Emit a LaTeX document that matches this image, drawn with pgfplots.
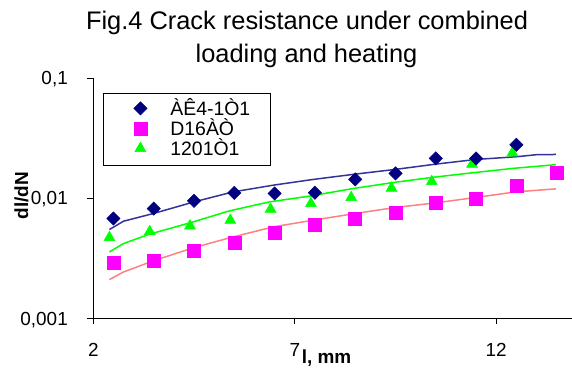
\documentclass[border=0pt]{standalone}
\usepackage{pgfplots}
\pgfplotsset{compat=1.18}
\usepackage{fontspec}
\setmainfont{Liberation Sans}
\definecolor{navy}{RGB}{0,0,128}
\definecolor{bline}{RGB}{51,51,153}
\definecolor{mag}{RGB}{255,0,255}
\definecolor{lgreen}{RGB}{0,255,0}
\definecolor{salmon}{RGB}{255,128,128}
\newcommand{\legtext}[1]{\raisebox{0pt}[16bp][4bp]{#1\hspace*{2bp}}}
\begin{document}
\begin{tikzpicture}
\begin{axis}[
  at={(93.3bp,50.7bp)}, anchor=south west,
  scale only axis, width=478.7bp, height=240.3bp,
  xmin=2, xmax=13.88, ymin=0.001, ymax=0.1, ymode=log,
  clip=false,
  axis lines*=left,
  axis line style={-, line width=0.8bp, black},
  tick align=outside, major tick length=6bp,
  tick style={line width=0.8bp, black},
  yminorticks=false, xminorticks=false,
  xtick={2,7,12}, xticklabels={2,7,12},
  ytick={0.001,0.01,0.1}, yticklabels={{0,001},{0,01},{0,1}},
  /pgf/number format/assume math mode=true,
  xticklabel style={font=\fontsize{19}{19}\selectfont, anchor=base, inner sep=0pt, yshift=-32.4bp},
  yticklabel style={font=\fontsize{19}{19}\selectfont, anchor=base east, inner sep=0pt, xshift=-19.3bp, yshift=-6.8bp},
  xlabel={l, mm},
  xlabel style={at={(axis description cs:0.4353,-0.186)}, anchor=base west, inner sep=0pt, font=\bfseries\fontsize{19}{19}\selectfont},
  ylabel={dl/dN},
  ylabel style={at={(axis description cs:-0.1364,0.511)}, anchor=base, inner sep=0pt, font=\bfseries\fontsize{19}{19}\selectfont},
  legend image code/.code={%
    \path[draw=none, fill=none] (-7bp,0bp) -- (42bp,0bp);
    \draw[only marks, mark repeat=2,mark phase=2] plot coordinates {(0bp,7bp)(12bp,7bp)(24bp,7bp)};},
  legend style={at={(axis description cs:0.0203,0.9376)}, anchor=north west,
    draw=black, line width=0.75bp, fill=white,
    inner xsep=18bp, inner ysep=6bp, row sep=0pt,
    nodes={inner sep=0pt, text height=16bp, text depth=4bp, font=\fontsize{19.5}{19.5}\selectfont},
    cells={anchor=base west}},
]
\addlegendimage{only marks, mark=square*, mark size=4.7bp, mark options={rotate=45, fill=navy, draw=navy, line width=0.5bp}}
\addlegendentry{\legtext{ÀÊ4-1Ò1}}
\addlegendimage{only marks, mark=square*, mark size=6.5bp, mark options={fill=mag, draw=mag, line width=0.5bp}}
\addlegendentry{\legtext{D16ÀÒ}}
\addlegendimage{only marks, mark=triangle*, mark size=6.3bp, mark options={fill=lgreen, draw=lgreen, line width=0.5bp}}
\addlegendentry{\legtext{1201Ò1}}

% trend lines
\addplot[bline, line width=1.5bp, forget plot] coordinates {
(2.40,0.00548) (2.75,0.00643) (3.49,0.00745) (4.50,0.00931) (5.47,0.01128)
(6.47,0.01283) (7.46,0.01432) (8.50,0.01585) (9.49,0.01734) (10.5,0.0192)
(11.5,0.0210) (12.49,0.0221) (13.0,0.0230) (13.48,0.0231)};
\addplot[lgreen, line width=1.5bp, forget plot] coordinates {
(2.40,0.00357) (2.75,0.00419) (3.39,0.00501) (4.39,0.00622) (5.38,0.00784)
(6.37,0.00931) (7.37,0.0104) (8.41,0.01197) (9.40,0.01343) (10.4,0.01487)
(11.4,0.01625) (12.4,0.01768) (13.48,0.0190)};
\addplot[salmon, line width=1.5bp, forget plot] coordinates {
(2.40,0.0021) (2.75,0.00243) (3.49,0.00301) (4.50,0.00388) (5.47,0.00476)
(6.47,0.00577) (7.46,0.00656) (8.50,0.00745) (9.49,0.00836) (10.5,0.00914)
(11.5,0.01014) (12.49,0.01128) (13.48,0.01195)};

% data points
\addplot[only marks, mark=triangle*, mark size=6.3bp, mark options={fill=lgreen, draw=lgreen, line width=0.5bp}, forget plot] coordinates {
(2.4,0.00470) (3.4,0.00527) (4.4,0.00588) (5.4,0.00655) (6.4,0.0081)
(7.4,0.00902) (8.4,0.01013) (9.4,0.01212) (10.4,0.01375) (11.4,0.0192) (12.4,0.0238)};
\addplot[only marks, mark=square*, mark size=6.5bp, mark options={fill=mag, draw=mag, line width=0.5bp}, forget plot] coordinates {
(2.5,0.00291) (3.5,0.00301) (4.5,0.00364) (5.5,0.00425) (6.5,0.00514) (7.5,0.00604)
(8.5,0.00673) (9.5,0.00755) (10.5,0.00914) (11.5,0.00994) (12.5,0.01259) (13.5,0.01625)};
\addplot[only marks, mark=square*, mark size=4.7bp, mark options={rotate=45, fill=navy, draw=navy, line width=0.5bp}, forget plot] coordinates {
(2.5,0.00677) (3.5,0.0082) (4.5,0.0095) (5.5,0.01107) (6.5,0.01094) (7.5,0.0111)
(8.5,0.01432) (9.5,0.01607) (10.5,0.02144) (11.5,0.0214) (12.5,0.0278)};
\end{axis}
\node[anchor=base, font=\fontsize{25.5}{25.5}\selectfont] at (307bp,339bp) {Fig.4 Crack resistance under combined};
\node[anchor=base, font=\fontsize{25.5}{25.5}\selectfont] at (306.5bp,306bp) {loading and heating};
\pgfresetboundingbox
\path[use as bounding box] (0bp,0bp) rectangle (572bp,369bp);
\end{tikzpicture}
\end{document}
